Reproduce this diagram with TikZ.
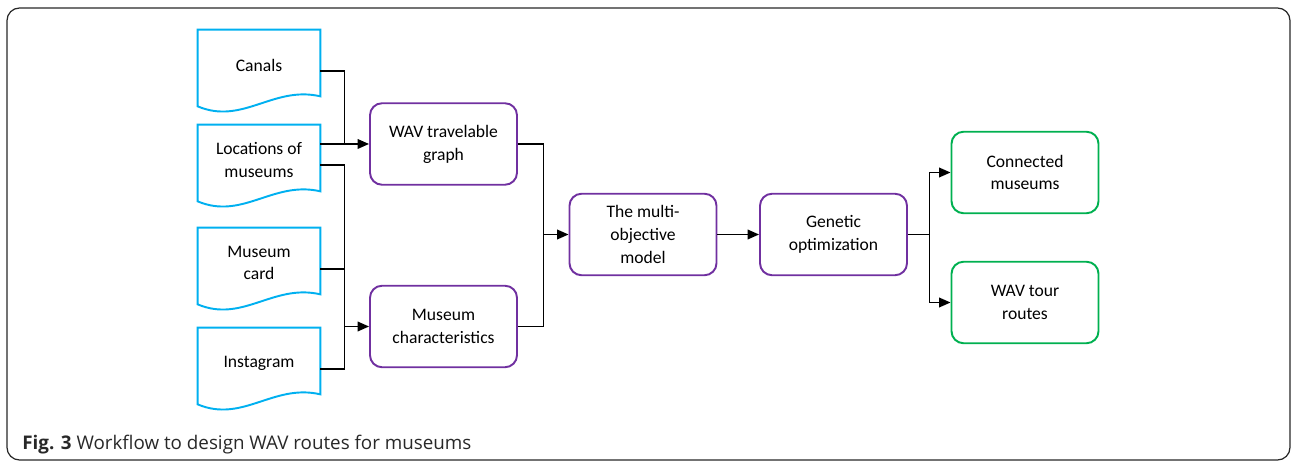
\documentclass[tikz,border=0pt]{standalone}
\usepackage{fontspec}
\setmainfont{Carlito}
\newfontfamily\capfont{Open Sans}
\usetikzlibrary{arrows.meta,positioning,calc}
\definecolor{docblue}{RGB}{0,176,240}
\definecolor{stepviolet}{RGB}{112,48,160}
\definecolor{outgreen}{RGB}{0,176,80}
\definecolor{framegray}{RGB}{40,40,40}

\tikzset{
    docnode/.style={minimum width=2.44cm, minimum height=1.4cm, align=center, inner sep=0pt},
    procbox/.style={draw=stepviolet, line width=1.1pt, rounded corners=0.24cm, fill=white,
        minimum width=2.94cm, minimum height=1.63cm, align=center, inner sep=0pt},
    resultbox/.style={procbox, draw=outgreen},
    link/.style={line width=0.85pt},
    flow/.style={link, -{Triangle[length=6.5pt,width=5.5pt]}}
}

\begin{document}
\begin{tikzpicture}[font=\fontsize{10}{13}\selectfont]
    \useasboundingbox (0,0) rectangle (25.84,9.22);
    \draw[framegray, line width=0.7pt, rounded corners=0.25cm] (0.14,0.02) rectangle (25.8,9.06);

    % data sources
    \node[docnode] (canals) at (5.18,7.92) {Canals};
    \node[docnode] (locations) at (5.18,6.02) {Locations of\\museums};
    \node[docnode] (card) at (5.18,3.96) {Museum\\card};
    \node[docnode] (instagram) at (5.18,1.96) {Instagram};
    \foreach \d in {canals,locations,card,instagram}
        \draw[docblue, line width=1.1pt] (\d.north west) -- (\d.north east) -- ([yshift=0.08cm]\d.south east)
            .. controls ([xshift=-0.94cm,yshift=0.3cm]\d.south east) and ([xshift=0.9cm,yshift=-0.5cm]\d.south west)
            .. ([yshift=-0.12cm]\d.south west) -- cycle;

    % processing steps
    \node[procbox] (graph) at (8.87,6.34) {WAV travelable\\graph};
    \node[procbox] (chars) at (8.87,2.69) {Museum\\characteristics};
    \node[procbox] (model) at (12.86,4.53) {The multi-\\objective\\model};
    \node[procbox] (genetic) at (16.67,4.53) {Genetic\\optimization};

    % results
    \node[resultbox] (connected) at (20.5,5.77) {Connected\\museums};
    \node[resultbox] (tours) at (20.5,3.17) {WAV tour\\routes};

    % connectors
    \coordinate (busA) at ($(locations.east)!0.5!(graph.west)$);
    \coordinate (busB) at ($(graph.east)!0.5!(model.west)$);
    \coordinate (busC) at ($(genetic.east)!0.5!(connected.west)$);

    \draw[link] ([yshift=-0.12cm]canals.east) -| (busA |- graph.west);
    \draw[flow] (locations.east |- graph.west) -- (graph.west);
    \draw[link] ([yshift=-0.1cm]locations.east) -| (busA |- chars.west);
    \draw[link] ([yshift=-0.12cm]card.east) -| (busA |- chars.west);
    \draw[link] ([yshift=-0.12cm]instagram.east) -| (busA |- chars.west);
    \draw[flow] (busA |- chars.west) -- (chars.west);

    \draw[link] (graph.east) -| (busB |- model.west);
    \draw[link] (chars.east) -| (busB |- model.west);
    \draw[flow] (busB |- model.west) -- (model.west);

    \draw[flow] (model.east) -- (genetic.west);

    \draw[link] (genetic.east) -- (busC |- genetic.east);
    \draw[flow] (busC |- genetic.east) |- (connected.west);
    \draw[flow] (busC |- genetic.east) |- (tours.west);

    \node[anchor=base west, font=\capfont\fontsize{10.7}{13}\selectfont, text=framegray, inner sep=0pt]
        (caption) at (0.44,0.22) {\textbf{Fig. 3} Workflow to design WAV routes for museums};
\end{tikzpicture}
\end{document}
